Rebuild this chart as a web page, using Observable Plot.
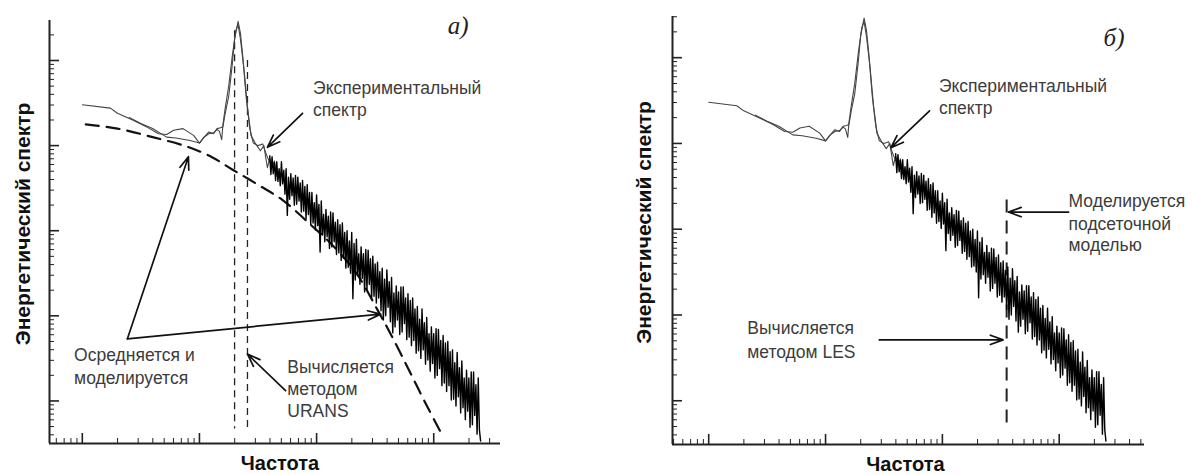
<!DOCTYPE html>
<html>
<head>
<meta charset="utf-8">
<script src="https://cdn.jsdelivr.net/npm/d3@7"></script>
<script src="https://cdn.jsdelivr.net/npm/@observablehq/plot@0.6"></script>
<style>
  html, body { margin: 0; padding: 0; background: #fff; }
  #wrap { display: flex; width: 1193px; height: 475px; overflow: hidden; }
  #wrap svg { display: block; }
</style>
</head>
<body>
<div id="wrap"></div>
<script>
// ---------- DATA (log10 of frequency, log10 of energy) ----------
const majorExpX = [0, 1, 2, 3];
const majorExpY = [-4, -3, -2, -1, 0];
const minorDecadesX = [-1, 0, 1, 2, 3];
const minorDecadesY = [-5, -4, -3, -2, -1, 0];
const minorMultipliers = [2, 3, 4, 5, 6, 7, 8, 9];

// experimental spectrum, low-frequency part, curve 1
const spectrumLow1 = [
  [0.00,-0.52],[0.24,-0.56],[0.30,-0.62],[0.43,-0.70],[0.55,-0.78],[0.65,-0.86],
  [0.72,-0.87],[0.78,-0.82],[0.86,-0.80],[0.95,-0.88],[1.00,-0.97],[1.04,-0.90],
  [1.08,-0.84],[1.12,-0.86],[1.15,-0.80],[1.18,-0.79],[1.20,-0.78],[1.22,-0.62],
  [1.25,-0.42],[1.28,-0.05],[1.30,0.25],[1.33,0.46],[1.35,0.32],[1.37,0.05],
  [1.40,-0.45],[1.43,-0.80],[1.46,-0.97],[1.50,-1.00],[1.54,-0.98],[1.57,-1.10],[1.60,-1.20]
];
// experimental spectrum, low-frequency part, curve 2
const spectrumLow2 = [
  [0.40,-0.67],[0.50,-0.74],[0.60,-0.80],[0.72,-0.90],[0.80,-0.91],[0.92,-0.94],
  [1.00,-0.97],[1.04,-0.90],[1.08,-0.86],[1.12,-0.85],[1.15,-0.81],[1.17,-0.83],
  [1.19,-0.93],[1.20,-0.76],[1.22,-0.56],[1.25,-0.30],[1.28,0.05],[1.31,0.35],
  [1.33,0.42],[1.35,0.25],[1.38,-0.10],[1.41,-0.55],[1.44,-0.88],[1.48,-0.98],
  [1.52,-1.06],[1.55,-1.00],[1.58,-1.26],[1.60,-1.15],[1.62,-1.25],[1.64,-1.18],[1.66,-1.36]
];
// experimental spectrum, high-frequency noisy part: log10 f from 1.60 in steps of 0.01
const noisyStartLogF = 1.60;
const noisyStepLogF = 0.01;
const spectrumNoisyLogE = [
  -1.12,-1.34,-1.13,-1.33,-1.20,-1.41,-1.19,-1.42,-1.27,-1.47,
  -1.19,-1.45,-1.29,-1.57,-1.27,-1.82,-1.37,-1.63,-1.33,-1.59,
  -1.38,-1.70,-1.35,-1.69,-1.37,-1.65,-1.44,-1.78,-1.41,-1.77,
  -1.48,-1.86,-1.46,-1.81,-1.55,-1.93,-1.55,-1.91,-1.67,-1.99,
  -1.58,-1.94,-1.69,-2.25,-1.65,-2.05,-1.81,-2.13,-1.75,-2.07,
  -1.83,-2.21,-1.78,-2.19,-1.79,-2.13,-1.90,-2.28,-1.87,-2.26,
  -1.93,-2.35,-1.91,-2.32,-2.02,-2.44,-2.00,-2.43,-2.12,-2.50,
  -2.02,-2.80,-2.15,-2.58,-2.10,-2.53,-2.27,-2.63,-2.19,-2.56,
  -2.27,-2.72,-2.22,-2.69,-2.23,-2.63,-2.33,-2.79,-2.30,-2.77,
  -2.39,-2.85,-2.37,-2.79,-2.48,-2.94,-2.44,-3.05,-2.57,-3.00,
  -2.46,-2.90,-2.60,-3.07,-2.55,-3.20,-2.73,-3.13,-2.65,-3.05,
  -2.72,-3.22,-2.66,-3.19,-2.66,-3.09,-2.79,-3.28,-2.74,-3.25,
  -2.82,-3.35,-2.79,-3.29,-2.92,-3.44,-2.89,-3.41,-3.04,-3.50,
  -2.92,-3.40,-3.08,-3.57,-3.02,-3.52,-3.21,-3.65,-3.13,-3.56,
  -3.21,-3.73,-3.15,-3.70,-3.16,-3.62,-3.29,-3.82,-3.23,-3.79,
  -3.32,-3.89,-3.30,-3.82,-3.42,-3.99,-3.40,-3.98,-3.55,-4.06,
  -3.43,-3.95,-3.61,-4.14,-3.53,-4.08,-3.73,-4.22,-3.64,-4.12,
  -3.73,-4.31,-3.66,-4.28,-3.66,-4.17,-3.81,-4.39,-3.73,-4.34,-4.47
];
// averaged / modelled (URANS) spectrum, panel a
const modelCurve = [
  [0.03,-0.75],[0.30,-0.80],[0.60,-0.90],[0.89,-1.01],[1.10,-1.13],[1.28,-1.28],
  [1.50,-1.46],[1.71,-1.64],[1.95,-1.93],[2.15,-2.19],[2.35,-2.52],[2.52,-2.93],
  [2.65,-3.26],[2.80,-3.67],[2.95,-4.08],[3.08,-4.42]
];
// vertical dashed markers [logf, logE top, logE bottom]
const cutsA = [[1.30,0.35,-4.33],[1.41,0.00,-4.33]];
const cutsB = [[2.55,-1.66,-4.31]];
// annotation texts [logf, logE, text]
const notesA = [
  [1.97,-0.33,"Экспериментальный"],[1.97,-0.59,"спектр"],
  [-0.07,-3.47,"Осредняется и"],[-0.07,-3.74,"моделируется"],
  [1.75,-3.61,"Вычисляется"],[1.75,-3.87,"методом"],[1.75,-4.12,"URANS"]
];
const notesB = [
  [1.97,-0.33,"Экспериментальный"],[1.97,-0.59,"спектр"],
  [3.08,-1.67,"Моделируется"],[3.08,-1.94,"подсеточной"],[3.08,-2.19,"моделью"],
  [0.33,-3.16,"Вычисляется"],[0.33,-3.44,"методом LES"]
];
// arrows [logf1, logE1, logf2, logE2]
const arrowsA = [
  [1.88,-0.62,1.58,-1.02],
  [0.385,-3.27,0.906,-1.13],
  [0.385,-3.27,2.547,-2.98],
  [1.735,-3.88,1.41,-3.45]
];
const arrowsB = [
  [1.89,-0.62,1.56,-1.05],
  [3.08,-1.80,2.565,-1.80],
  [1.46,-3.29,2.52,-3.29]
];
const panelTags = ["а)", "б)"];
const axisTitleX = "Частота";
const axisTitleY = "Энергетический спектр";

// ---------- DRAWING ----------
const P = v => 10 ** v;
const noisy = spectrumNoisyLogE.map((e, i) => [noisyStartLogF + i * noisyStepLogF, e]);

function panel(cfg) {
  const height = 475;
  const innerW = cfg.width - cfg.marginLeft - cfg.marginRight;
  const innerH = height - cfg.marginTop - cfg.marginBottom;
  const xd = cfg.xDomain.map(P), yd = cfg.yDomain.map(P);
  const inX = v => v >= xd[0] * 0.999 && v <= xd[1] * 1.001;
  const inY = v => v >= yd[0] * 0.999 && v <= yd[1] * 1.001;
  const xMaj = majorExpX.map(P).filter(inX);
  const yMaj = majorExpY.map(P).filter(inY);
  const xMin = minorDecadesX.flatMap(d => minorMultipliers.map(m => m * P(d))).filter(inX);
  const yMin = minorDecadesY.flatMap(d => minorMultipliers.map(m => m * P(d))).filter(inY);
  const font = "Liberation Sans, Arial, Helvetica, sans-serif";
  const textColor = "#3c3c3c";
  const marks = [
    Plot.ruleX(xMin, {x: d => d, insetTop: innerH - 5, stroke: "#222", strokeWidth: 1}),
    Plot.ruleX(xMaj, {x: d => d, insetTop: innerH - 10, stroke: "#222", strokeWidth: 1.6}),
    Plot.ruleY(yMin, {y: d => d, insetRight: innerW - 5, stroke: "#222", strokeWidth: 1}),
    Plot.ruleY(yMaj, {y: d => d, insetRight: innerW - 10, stroke: "#222", strokeWidth: 1.6}),
    Plot.ruleX([xd[0]], {stroke: "#222", strokeWidth: 2}),
    Plot.ruleY([yd[0]], {stroke: "#222", strokeWidth: 2}),
  ];
  if (cfg.model) marks.push(Plot.line(cfg.model, {x: d => P(d[0]), y: d => P(d[1]), curve: "catmull-rom", stroke: "#111", strokeWidth: 2.2, strokeDasharray: "13,8"}));
  marks.push(
    Plot.ruleX(cfg.cuts, {x: d => P(d[0]), y1: d => P(d[1]), y2: d => P(d[2]), stroke: "#222", strokeWidth: cfg.cutWidth, strokeDasharray: cfg.cutDash}),
    Plot.line(spectrumLow1, {x: d => P(d[0]), y: d => P(d[1]), stroke: "#444", strokeWidth: 1.1}),
    Plot.line(spectrumLow2, {x: d => P(d[0]), y: d => P(d[1]), stroke: "#444", strokeWidth: 1.1}),
    Plot.line(noisy, {x: d => P(d[0]), y: d => P(d[1]), stroke: "#000", strokeWidth: 1.4}),
    Plot.arrow(cfg.arrows, {x1: d => P(d[0]), y1: d => P(d[1]), x2: d => P(d[2]), y2: d => P(d[3]), stroke: "#111", strokeWidth: 1.7, headLength: 12, headAngle: 40}),
    Plot.text(cfg.notes, {x: d => P(d[0]), y: d => P(d[1]), text: d => d[2], textAnchor: "start", fontSize: 17.5, fill: textColor, fontFamily: font}),
    Plot.text([cfg.tag], {x: P(cfg.tagPos[0]), y: P(cfg.tagPos[1]), text: d => d, textAnchor: "start", fontSize: 25, fontStyle: "italic", fontFamily: "Liberation Serif, Times New Roman, serif", fill: "#222"}),
    Plot.text([axisTitleX], {frameAnchor: "bottom", dx: cfg.xTitleDx, dy: 20, text: d => d, textAnchor: "middle", lineAnchor: "middle", fontSize: 20, fontWeight: "bold", fill: "#111", fontFamily: font}),
    Plot.text([axisTitleY], {frameAnchor: "left", rotate: -90, dx: cfg.yTitleDx, dy: cfg.yTitleDy, text: d => d, textAnchor: "middle", lineAnchor: "middle", fontSize: 21, fontWeight: "bold", fill: "#111", fontFamily: font})
  );
  return Plot.plot({
    width: cfg.width, height,
    marginLeft: cfg.marginLeft, marginRight: cfg.marginRight,
    marginTop: cfg.marginTop, marginBottom: cfg.marginBottom,
    x: {type: "log", domain: xd, axis: null},
    y: {type: "log", domain: yd, axis: null},
    style: {background: "#fff", overflow: "visible"},
    marks
  });
}

const wrap = document.getElementById("wrap");
wrap.append(panel({
  width: 600, marginLeft: 49, marginRight: 100, marginTop: 20, marginBottom: 32,
  xDomain: [-0.28, 3.57], yDomain: [-4.5, 0.47],
  model: modelCurve, cuts: cutsA, cutWidth: 1.3, cutDash: "7,5",
  notes: notesA, arrows: arrowsA, tag: panelTags[0], tagPos: [3.12, 0.41],
  xTitleDx: 5, yTitleDx: -26, yTitleDy: -8
}));
wrap.append(panel({
  width: 593, marginLeft: 72, marginRight: 49, marginTop: 16, marginBottom: 31,
  xDomain: [-0.31, 3.73], yDomain: [-4.51, 0.48],
  model: null, cuts: cutsB, cutWidth: 2, cutDash: "13,8",
  notes: notesB, arrows: arrowsB, tag: panelTags[1], tagPos: [3.38, 0.23],
  xTitleDx: -3, yTitleDx: -28, yTitleDy: -8
}));
</script>
</body>
</html>
